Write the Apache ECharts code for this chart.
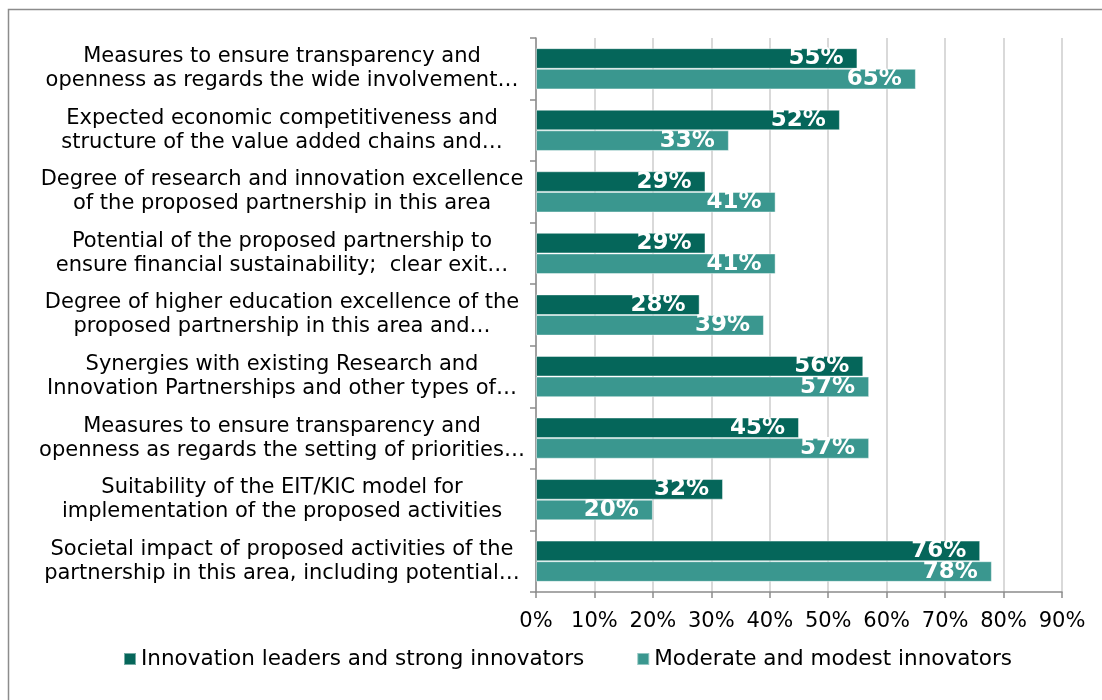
<!DOCTYPE html>
<html>
<head>
<meta charset="utf-8">
<script src="https://cdn.jsdelivr.net/npm/echarts@6/dist/echarts.min.js"></script>
<style>
  html, body { margin: 0; padding: 0; background: #fff; }
  #chart { width: 1102px; height: 700px; }
</style>
</head>
<body>
<div id="chart"></div>
<script>
const categories = [
    "Measures to ensure transparency and\nopenness as regards the wide involvement\u2026",
    "Expected economic competitiveness and\nstructure of the value added chains and\u2026",
    "Degree of research and innovation excellence\nof the proposed partnership in this area",
    "Potential of the proposed partnership to\nensure financial sustainability;  clear exit\u2026",
    "Degree of higher education excellence of the\nproposed partnership in this area and\u2026",
    "Synergies with existing Research and\nInnovation Partnerships and other types of\u2026",
    "Measures to ensure transparency and\nopenness as regards the setting of priorities\u2026",
    "Suitability of the EIT/KIC model for\nimplementation of the proposed activities",
    "Societal impact of proposed activities of the\npartnership in this area, including potential\u2026"
];
const seriesNames = ["Innovation leaders and strong innovators", "Moderate and modest innovators"];
const leaders = [55, 52, 29, 29, 28, 56, 45, 32, 76];
const moderate = [65, 33, 41, 41, 39, 57, 57, 20, 78];
const xTicks = [0, 10, 20, 30, 40, 50, 60, 70, 80, 90];

const chart = echarts.init(document.getElementById("chart"));
const font = "DejaVu Sans, Verdana, sans-serif";

const barLabel = {
    show: true,
    position: "insideRight",
    distance: 14,
    color: "#fff",
    fontWeight: "bold",
    fontSize: 23,
    fontFamily: font,
    formatter: "{c}%",
};

chart.setOption({
    animation: false,
    textStyle: { fontFamily: font },
    graphic: [
        {
            type: "rect",
            shape: { x: 8.5, y: 9.5, width: 1200, height: 800 },
            style: { fill: "none", stroke: "#8c8c8c", lineWidth: 1.5 },
            silent: true,
        },
    ],
    grid: { left: 536, right: 40, top: 38, bottom: 108 },
    legend: {
        data: seriesNames,
        left: 118,
        top: 643,
        itemWidth: 12,
        itemHeight: 12,
        itemGap: 52,
        icon: "rect",
        textStyle: { fontSize: 21.5, color: "#000", fontFamily: font },
    },
    xAxis: {
        type: "value",
        min: 0,
        max: xTicks[xTicks.length - 1],
        interval: 10,
        axisLine: { show: true, lineStyle: { color: "#8c8c8c", width: 1.5 } },
        axisTick: { show: true, length: 6, lineStyle: { color: "#8c8c8c", width: 1.5 } },
        splitLine: { show: true, lineStyle: { color: "#d9d9d9", width: 2 } },
        axisLabel: {
            margin: 19,
            fontSize: 21,
            color: "#000",
            fontFamily: font,
            formatter: (v) => v + "%",
        },
    },
    yAxis: {
        type: "category",
        data: categories,
        inverse: true,
        axisLine: { show: true, lineStyle: { color: "#8c8c8c", width: 1.5 } },
        axisTick: { show: true, length: 6, lineStyle: { color: "#8c8c8c", width: 1.5 } },
        axisLabel: {
            align: "center",
            margin: 254,
            fontSize: 21,
            lineHeight: 24,
            color: "#000",
            fontFamily: font,
        },
    },
    series: [
        {
            name: seriesNames[0],
            type: "bar",
            data: leaders,
            barGap: "0%",
            barCategoryGap: "33%",
            itemStyle: { color: "#05665a", borderColor: "rgba(255,255,255,0.45)", borderWidth: 1 },
            label: barLabel,
        },
        {
            name: seriesNames[1],
            type: "bar",
            data: moderate,
            itemStyle: { color: "#3a978f", borderColor: "rgba(255,255,255,0.45)", borderWidth: 1 },
            label: barLabel,
        },
    ],
});

window.addEventListener("resize", () => chart.resize());
</script>
</body>
</html>
